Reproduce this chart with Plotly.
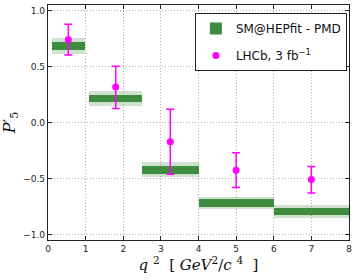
import plotly.graph_objects as go

# Bins (q^2 ranges)
bin_lo = [0.1, 1.1, 2.5, 4.0, 6.0]
bin_hi = [0.98, 2.5, 4.0, 6.0, 8.0]

# SM@HEPfit - PMD predictions: 1 sigma (dark) and 2 sigma (light) bands
sm_dark_lo = [0.645, 0.179, -0.462, -0.753, -0.828]
sm_dark_hi = [0.720, 0.244, -0.387, -0.688, -0.762]
sm_light_lo = [0.616, 0.146, -0.491, -0.777, -0.852]
sm_light_hi = [0.755, 0.282, -0.352, -0.664, -0.738]

# LHCb 3 fb^-1 measurements
lhcb_x = [0.54, 1.80, 3.25, 5.00, 7.00]
lhcb_y = [0.741, 0.318, -0.173, -0.426, -0.509]
lhcb_err_plus = [0.137, 0.185, 0.292, 0.155, 0.116]
lhcb_err_minus = [0.137, 0.193, 0.289, 0.154, 0.122]

x_ticks = [0, 1, 2, 3, 4, 5, 6, 7, 8]
y_ticks = [-1.0, -0.5, 0.0, 0.5, 1.0]

centers = [(a + b) / 2 for a, b in zip(bin_lo, bin_hi)]
widths = [b - a for a, b in zip(bin_lo, bin_hi)]

fig = go.Figure()
fig.add_trace(go.Bar(
    x=centers, width=widths, base=sm_light_lo,
    y=[h - l for h, l in zip(sm_light_hi, sm_light_lo)],
    marker=dict(color="rgba(61,140,64,0.25)", line=dict(width=0)),
    showlegend=False, hoverinfo="skip",
))
fig.add_trace(go.Bar(
    x=centers, width=widths, base=sm_dark_lo,
    y=[h - l for h, l in zip(sm_dark_hi, sm_dark_lo)],
    marker=dict(color="#3d8c40", line=dict(width=0)),
    name="SM@HEPfit - PMD", legendgroup="sm",
))
fig.add_trace(go.Scatter(
    x=lhcb_x, y=lhcb_y, mode="markers",
    marker=dict(color="#ff00ff", size=7),
    error_y=dict(type="data", symmetric=False, array=lhcb_err_plus,
                 arrayminus=lhcb_err_minus, color="#ff00ff", thickness=1.5, width=4),
    name="LHCb, 3 fb<sup>−1</sup>", legendgroup="lhcb",
))

axis_common = dict(
    showline=True, linecolor="#222", linewidth=1.3, mirror="ticks",
    ticks="inside", ticklen=4, tickcolor="#222",
    showgrid=True, gridcolor="#b0b0b0", griddash="1px,2px", gridwidth=1,
    zeroline=False, tickfont=dict(size=9, color="#222", family="DejaVu Sans"),
    automargin=False, ticklabeloverflow="allow",
)

fig.update_layout(
    width=357, height=280,
    margin=dict(l=48, r=8, t=5, b=40),
    plot_bgcolor="white", paper_bgcolor="white",
    barmode="overlay", bargap=0,
    xaxis=dict(range=[0, 8], tickvals=x_ticks, **axis_common,
               title=dict(text="<i>q</i> <sup>2</sup>  [ <i>GeV</i><sup>2</sup>/<i>c</i> <sup>4</sup>  ]",
                          font=dict(family="DejaVu Serif", size=15, color="#111"), standoff=0)),
    yaxis=dict(range=[-1.05, 1.05], tickvals=y_ticks, tickformat=".1f", **axis_common,
               title=dict(text="<i>P</i>′<sub>5</sub>",
                          font=dict(family="DejaVu Serif", size=16, color="#111"), standoff=6)),
    legend=dict(x=0.993, y=0.966, xanchor="right", yanchor="top",
                bgcolor="white", bordercolor="#222", borderwidth=1,
                font=dict(family="DejaVu Sans", size=12, color="#111"),
                itemwidth=30, tracegroupgap=8),
    showlegend=True,
)

fig.write_html("out.html", config={"displayModeBar": False},
               post_script="document.body.style.margin='0';")
